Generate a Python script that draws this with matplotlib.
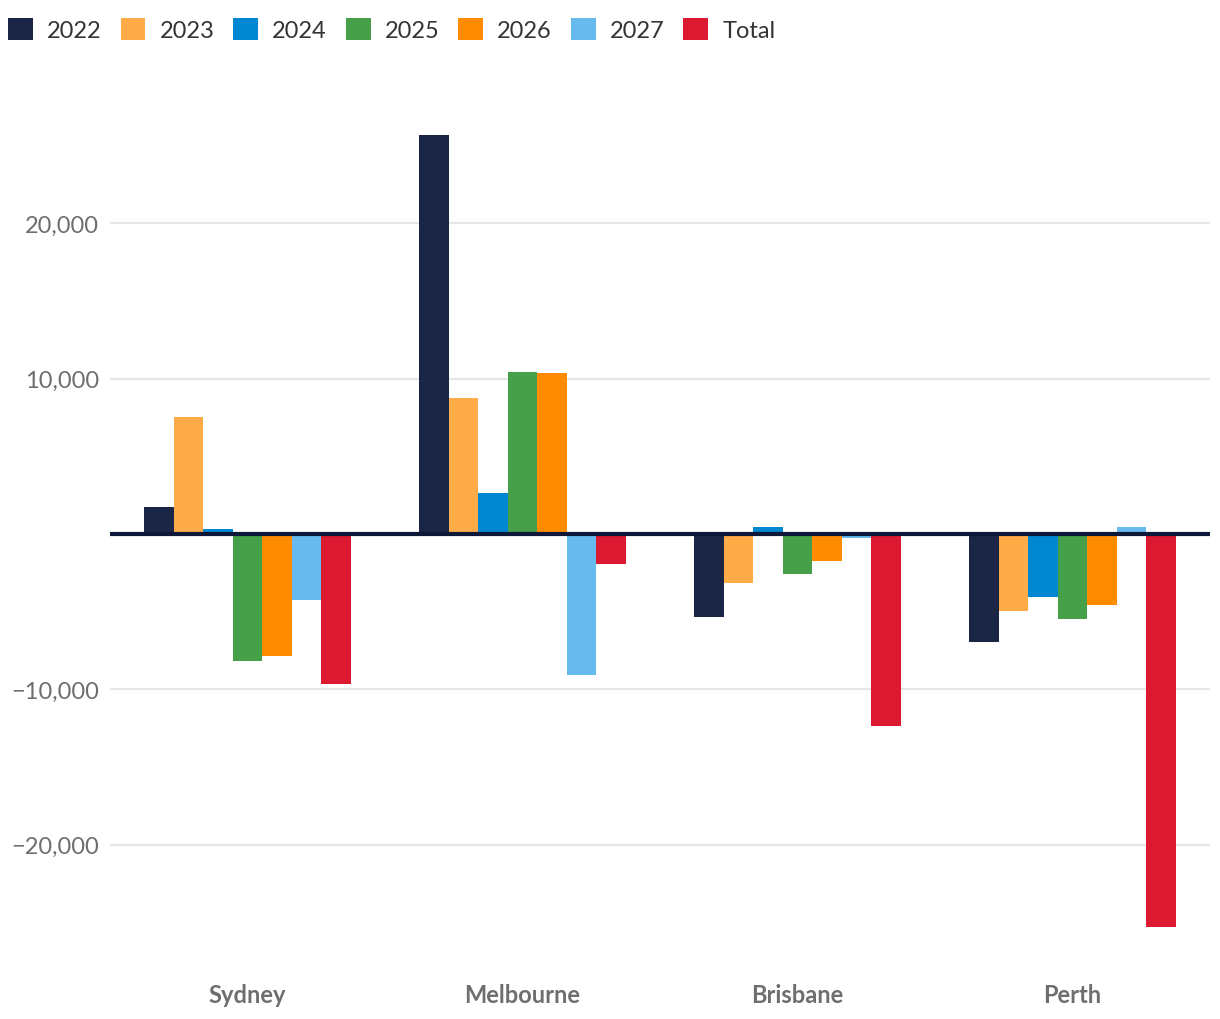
import matplotlib
matplotlib.use("Agg")
import matplotlib.pyplot as plt
import numpy as np
from matplotlib.patches import Patch
from matplotlib.ticker import FuncFormatter

plt.rcParams['font.family'] = ['Lato', 'DejaVu Sans']

cities = ["Sydney", "Melbourne", "Brisbane", "Perth"]
series_names = ["2022", "2023", "2024", "2025", "2026", "2027", "Total"]
v2022 = [1740, 25690, -5340, -6950]
v2023 = [7530, 8760, -3150, -4960]
v2024 = [320, 2640, 450, -4060]
v2025 = [-8180, 10430, -2580, -5470]
v2026 = [-7860, 10370, -1740, -4570]
v2027 = [-4250, -9080, -260, 450]
vtotal = [-9660, -1930, -12360, -25300]
values = [v2022, v2023, v2024, v2025, v2026, v2027, vtotal]
colors = ["#1b2646", "#ffab48", "#0087d1", "#45a049", "#ff8c00", "#66baee", "#db1930"]
yticks = [-20000, -10000, 10000, 20000]

fig = plt.figure(figsize=(12.2, 10.2), dpi=100)
ax = fig.add_axes([110/1220, 1-962/1020, 1100/1220, (962-92)/1020])

x = np.arange(len(cities))
n = len(series_names)
group_w = 0.75
bw = group_w / n
for i, (name, vals, c) in enumerate(zip(series_names, values, colors)):
    ax.bar(x - group_w/2 + bw*(i+0.5), vals, width=bw, color=c, linewidth=0, zorder=2)

ax.set_xlim(-0.5, len(cities) - 0.5)
ax.set_ylim(-27500, 28530)
ax.set_yticks(yticks)
ax.yaxis.set_major_formatter(FuncFormatter(lambda v, p: f"{int(v):,}".replace("-", "\u2212")))
ax.grid(axis='y', color='#e6e6e6', linewidth=1.5, zorder=0)
ax.axhline(0, color='#0d1838', linewidth=3, zorder=3)
ax.set_xticks(x)
ax.set_xticklabels(cities, fontsize=17, fontweight='bold', color='#6e6e6e')
ax.tick_params(axis='x', length=0, pad=16)
ax.tick_params(axis='y', length=0, labelsize=17, labelcolor='#6e6e6e', pad=8)
for s in ax.spines.values():
    s.set_visible(False)

handles = [Patch(facecolor=c, edgecolor='none', label=nm) for nm, c in zip(series_names, colors)]
leg = fig.legend(handles=handles, loc='upper left', bbox_to_anchor=(-0.004, 1 - 6/1020), ncol=7,
                 frameon=False, fontsize=17, handlelength=1.05, handleheight=1.05,
                 handletextpad=0.6, columnspacing=0.8, borderaxespad=0.1,
                 borderpad=0.45)
for t in leg.get_texts():
    t.set_color('#333333')

fig.savefig("out.png", dpi=100, facecolor='white')
